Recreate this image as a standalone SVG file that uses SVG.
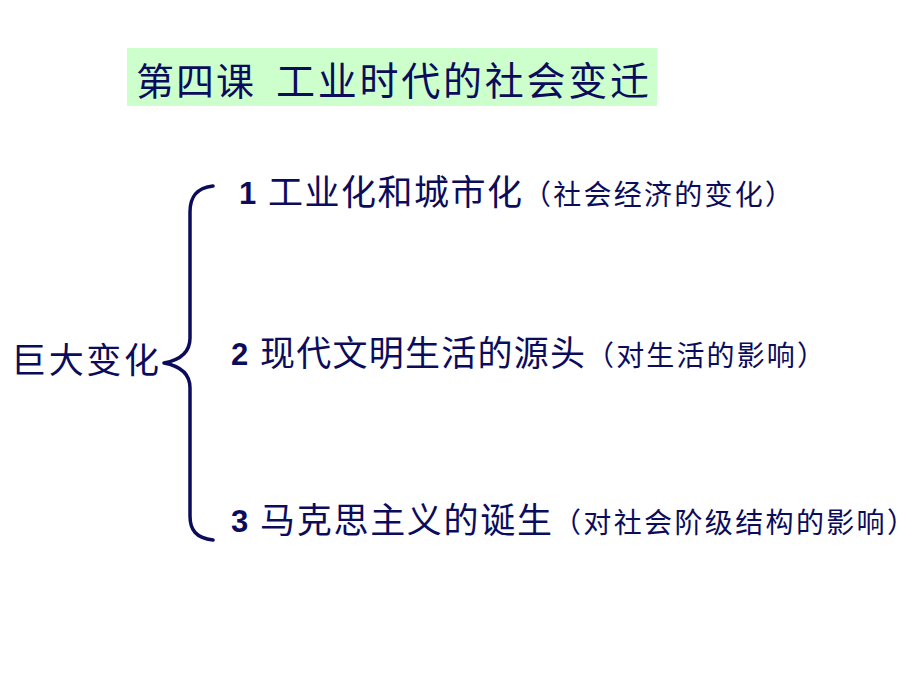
<svg xmlns="http://www.w3.org/2000/svg" width="920" height="690" viewBox="0 0 920 690">
<style>
.cjk{font-family:"Noto Sans CJK SC",sans-serif;fill:#0c0c5c}
.num{font-family:"Liberation Sans",Arial,sans-serif;font-weight:bold;fill:#0c0c5c;font-size:31px}
.main{font-size:35px}
.sub{font-size:28px}
.brace{fill:none;stroke:#0c0c5c;stroke-width:3.5;stroke-linecap:round;stroke-linejoin:round}
</style>
<rect width="920" height="690" fill="#ffffff"/>
<g id="title">
<rect x="127" y="48" width="530" height="58" fill="#ccffcc"/>
<text class="cjk" x="136" y="95" font-size="38" textLength="118" lengthAdjust="spacing">第四课</text>
<text class="cjk" x="276" y="95" font-size="39" textLength="373" lengthAdjust="spacing">工业时代的社会变迁</text>
</g>
<g id="root">
<text class="cjk" x="11" y="373" font-size="35" textLength="148" lengthAdjust="spacing">巨大变化</text>
</g>
<g id="connectors">
<path class="brace" d="M213,186 C196,188 190,197 190,212 L190,338 C190,352 180,360 164,363 C180,366 190,374 190,388 L190,516 C190,530 196,538 213,540"/>
</g>
<g id="item1">
<text class="num" x="239" y="204">1</text>
<text class="cjk main" x="268" y="205" textLength="254" lengthAdjust="spacing">工业化和城市化</text>
<text class="cjk sub" x="523" y="205" textLength="270" lengthAdjust="spacing">（社会经济的变化）</text>
</g>
<g id="item2">
<text class="num" x="231" y="365">2</text>
<text class="cjk main" x="260" y="366" textLength="325" lengthAdjust="spacing">现代文明生活的源头</text>
<text class="cjk sub" x="586" y="366" textLength="239" lengthAdjust="spacing">（对生活的影响）</text>
</g>
<g id="item3">
<text class="num" x="231" y="532">3</text>
<text class="cjk main" x="260" y="533" textLength="292" lengthAdjust="spacing">马克思主义的诞生</text>
<text class="cjk sub" x="553" y="533" textLength="362" lengthAdjust="spacing">（对社会阶级结构的影响）</text>
</g>
</svg>
